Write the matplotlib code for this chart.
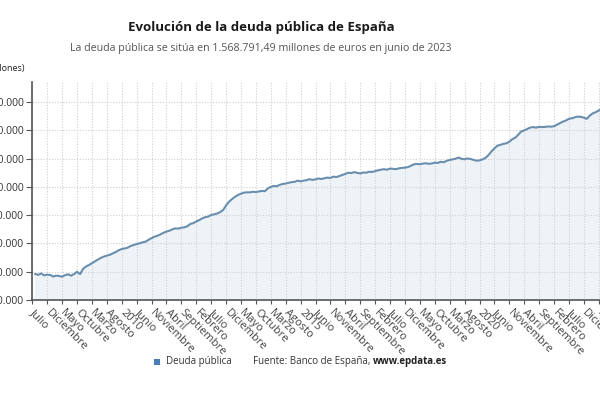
import matplotlib
matplotlib.use("Agg")
import matplotlib.pyplot as plt
import matplotlib.dates as mdates
from matplotlib.patches import Rectangle
from matplotlib.ticker import FuncFormatter
import pandas as pd

plt.rcParams['font.family'] = ['Open Sans', 'DejaVu Sans']

# Monthly public debt (millions of euros), July 2007 - June 2023
v2007 = [384000, 378000, 388000, 374000, 380000, 377000]
v2008 = [366000, 372000, 370000, 365000, 376000, 382000, 372000, 384000, 400000, 383000, 420000, 437000]
v2009 = [448000, 460000, 474000, 486000, 498000, 507000, 514000, 520000, 530000, 540000, 552000, 561000]
v2010 = [565000, 570000, 582000, 589000, 596000, 601000, 608000, 613000, 626000, 638000, 648000, 655000]
v2011 = [665000, 675000, 684000, 690000, 700000, 707000, 705000, 712000, 714000, 722000, 738000, 744000]
v2012 = [756000, 765000, 778000, 786000, 790000, 802000, 806000, 812000, 822000, 837000, 870000, 896000]
v2013 = [915000, 930000, 943000, 952000, 960000, 962000, 962000, 966000, 964000, 968000, 972000, 970000]
v2014 = [990000, 1000000, 1007000, 1005000, 1015000, 1021000, 1024000, 1030000, 1034000, 1036000, 1045000, 1040000]
v2015 = [1045000, 1048000, 1055000, 1050000, 1054000, 1060000, 1056000, 1062000, 1066000, 1064000, 1073000, 1070000]
v2016 = [1078000, 1085000, 1092000, 1101000, 1098000, 1105000, 1100000, 1096000, 1102000, 1101000, 1108000, 1106000]
v2017 = [1112000, 1118000, 1122000, 1126000, 1122000, 1130000, 1128000, 1126000, 1132000, 1135000, 1137000, 1141000]
v2018 = [1150000, 1160000, 1163000, 1161000, 1165000, 1168000, 1164000, 1166000, 1172000, 1170000, 1178000, 1175000]
v2019 = [1185000, 1191000, 1195000, 1200000, 1208000, 1200000, 1196000, 1202000, 1198000, 1192000, 1186000, 1188000]
v2020 = [1195000, 1205000, 1225000, 1250000, 1272000, 1292000, 1298000, 1305000, 1309000, 1320000, 1338000, 1349000]
v2021 = [1370000, 1392000, 1400000, 1410000, 1420000, 1424000, 1420000, 1425000, 1424000, 1425000, 1428000, 1427000]
v2022 = [1430000, 1440000, 1451000, 1462000, 1470000, 1482000, 1486000, 1493000, 1498000, 1496000, 1491000, 1482000]
v2023 = [1505000, 1520000, 1529000, 1540000, 1552000, 1568791.49]

values = (v2007 + v2008 + v2009 + v2010 + v2011 + v2012 + v2013 + v2014 + v2015
          + v2016 + v2017 + v2018 + v2019 + v2020 + v2021 + v2022 + v2023)
dates = pd.date_range('2007-07-01', periods=len(values), freq='MS') + pd.offsets.MonthEnd(0)

tick_dates = pd.date_range('2007-07-01', '2023-05-01', freq='5MS')
tick_labels = ["Julio", "Diciembre", "Mayo", "Octubre", "Marzo", "Agosto", "2010",
               "Junio", "Noviembre", "Abril", "Septiembre", "Febrero", "Julio", "Diciembre",
               "Mayo", "Octubre", "Marzo", "Agosto", "2015", "Junio", "Noviembre", "Abril",
               "Septiembre", "Febrero", "Julio", "Diciembre", "Mayo", "Octubre", "Marzo",
               "Agosto", "2020", "Junio", "Noviembre", "Abril", "Septiembre", "Febrero",
               "Julio", "Diciembre", "Mayo"]
y_ticks = [200000, 400000, 600000, 800000, 1000000, 1200000, 1400000, 1600000]

title = "Evolución de la deuda pública de España"
subtitle = "La deuda pública se sitúa en 1.568.791,49 millones de euros en junio de 2023"
series_name = "Deuda pública"

fig = plt.figure(figsize=(6, 4), dpi=100)
ax = fig.add_axes([32.3 / 600, 0.25, 572.2 / 600, 218.3 / 400])

ymin, ymax = 200000, 1745000
ax.fill_between(dates, values, ymin, color='#eef3f8', zorder=1)
ax.plot(dates, values, color='#6a8fae', lw=1.5, zorder=3)

ax.set_xlim(dates[0], dates[-1])
ax.set_ylim(ymin, ymax)
ax.set_yticks(y_ticks)
ax.yaxis.set_major_formatter(FuncFormatter(lambda v, p: f"{v:,.0f}".replace(",", ".")))
ax.set_xticks(tick_dates)
ax.set_xticklabels(tick_labels, rotation=-45, ha='left', va='center',
                   rotation_mode='anchor')

ax.grid(True, color='#cfcfcf', linestyle=(0, (1, 1.5)), lw=0.8, zorder=0)
for s in ['top', 'right']:
    ax.spines[s].set_visible(False)
for s in ['left', 'bottom']:
    ax.spines[s].set_color('#555555')
    ax.spines[s].set_linewidth(1.2)
ax.tick_params(axis='y', length=4, color='#555555', labelsize=7.5, labelcolor='#333333', pad=2)
ax.tick_params(axis='x', length=3, color='#555555', labelsize=8, labelcolor='#444444', pad=5)

fig.text(261 / 600, 1 - 27 / 400, title, ha='center', va='center',
         fontsize=9.5, fontweight='bold', color='#1a1a1a')
fig.text(261 / 600, 1 - 48 / 400, subtitle, ha='center', va='center',
         fontsize=7.7, color='#555555')
fig.text(25 / 600, 1 - 69 / 400, "(millones)", ha='right', va='center',
         fontsize=6.5, color='#222222')

fig.patches.append(Rectangle((154 / 600, 1 - 364.5 / 400), 6 / 600, 6 / 400,
                             transform=fig.transFigure, facecolor='#4a7fb5',
                             edgecolor='none'))
fig.text(166 / 600, 1 - 361.5 / 400, series_name, ha='left', va='center',
         fontsize=7, color='#333333')
t1 = fig.text(253 / 600, 1 - 361.5 / 400, "Fuente: Banco de España, ", ha='left',
              va='center', fontsize=7, color='#333333')
fig.canvas.draw()
bb = t1.get_window_extent()
x1 = fig.transFigure.inverted().transform((bb.x1, bb.y0))[0]
fig.text(x1, 1 - 361.5 / 400, "www.epdata.es", ha='left', va='center',
         fontsize=7, fontweight='bold', color='#222222')

fig.savefig('out.png', dpi=100)
